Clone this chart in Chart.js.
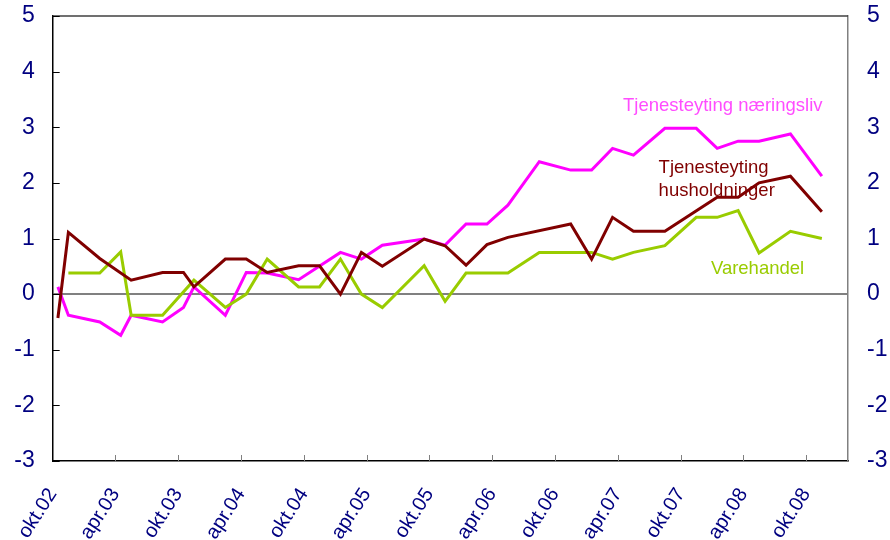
<!DOCTYPE html>
<html>
<head>
<meta charset="utf-8">
<script src="https://cdn.jsdelivr.net/npm/chart.js@4.4.1/dist/chart.umd.min.js"></script>
<style>
  body { margin: 0; background: #fff; }
  #wrap { width: 890px; height: 540px; }
</style>
</head>
<body>
<div id="wrap"><canvas id="mycanvas"></canvas></div>
<script>
// months counted from okt.02 (0) ; a value sits in the middle of its month
var months = [0, 1, 4, 6, 7, 10, 12, 13, 16, 18, 20, 23, 25, 27, 29, 31, 35, 37, 39, 41, 43, 46, 49, 51, 53, 55, 58, 61, 63, 65, 67, 70, 73];

var husholdninger = [-0.43, 1.11, 0.64, null, 0.25, 0.39, 0.39, 0.13, 0.63, 0.63, 0.39, 0.51, 0.51, 0.0, 0.75, 0.5, 0.99, 0.87, 0.52, 0.89, 1.02, null, 1.26, 0.63, 1.38, 1.13, 1.13, null, 1.74, 1.74, 2.0, 2.12, 1.48];
var varehandel = [null, 0.38, 0.38, 0.76, -0.38, -0.38, null, 0.25, -0.24, 0.0, 0.63, 0.13, 0.13, 0.63, 0.0, -0.24, 0.51, -0.13, 0.38, 0.38, 0.38, 0.75, 0.75, 0.75, 0.63, 0.75, 0.87, 1.38, 1.38, 1.5, 0.74, 1.13, 1.0];
var naeringsliv = [0.13, -0.38, -0.5, -0.74, -0.38, -0.5, -0.24, 0.13, -0.38, 0.39, 0.38, 0.26, null, 0.75, 0.63, 0.88, 0.99, 0.88, 1.26, 1.26, 1.6, 2.38, 2.23, 2.23, 2.62, 2.5, 2.98, 2.98, 2.62, 2.75, 2.75, 2.88, 2.12];

var tickMonths = [0, 6, 12, 18, 24, 30, 36, 42, 48, 54, 60, 66, 72];
var tickLabels = ['okt.02', 'apr.03', 'okt.03', 'apr.04', 'okt.04', 'apr.05', 'okt.05', 'apr.06', 'okt.06', 'apr.07', 'okt.07', 'apr.08', 'okt.08'];
var yTicks = [-3, -2, -1, 0, 1, 2, 3, 4, 5];

var notes = [
  { text: 'Tjenesteyting næringsliv', x: 54.5, y: 3.29, color: '#ff4dff' },
  { text: 'Tjenesteyting', x: 57.9, y: 2.18, color: '#800000' },
  { text: 'husholdninger', x: 57.9, y: 1.77, color: '#800000' },
  { text: 'Varehandel', x: 62.9, y: 0.36, color: '#99cc00' }
];

var FONT = '"Liberation Sans", Arial, sans-serif';

function points(values) {
  var out = [];
  for (var i in months) {
    out.push({ x: months[i] + 0.5, y: values[i] });
  }
  return out;
}

function fitY(width) {
  return function(scale) {
    scale.width = width;
    scale.paddingTop = 0;
    scale.paddingBottom = 0;
  };
}

var extras = {
  id: 'extras',
  afterDraw: function(chart) {
    var ctx = chart.ctx, a = chart.chartArea;
    var xs = chart.scales.x, ys = chart.scales.y;
    ctx.save();
    // top frame
    ctx.strokeStyle = '#404040';
    ctx.lineWidth = 1.5;
    ctx.beginPath();
    ctx.moveTo(a.left, a.top);
    ctx.lineTo(a.right, a.top);
    ctx.stroke();
    // inward ticks, left axis
    ctx.strokeStyle = '#000';
    ctx.lineWidth = 1;
    yTicks.forEach(function(v) {
      var py = Math.round(ys.getPixelForValue(v)) + 0.5;
      ctx.beginPath();
      ctx.moveTo(a.left, py);
      ctx.lineTo(a.left + 7, py);
      ctx.stroke();
    });
    // inward ticks, bottom axis
    ctx.strokeStyle = '#808080';
    tickMonths.forEach(function(m) {
      if (m === 0) return;
      var px = Math.round(xs.getPixelForValue(m)) + 0.5;
      ctx.beginPath();
      ctx.moveTo(px, a.bottom);
      ctx.lineTo(px, a.bottom - 6);
      ctx.stroke();
    });
    // series names
    ctx.font = '18.5px ' + FONT;
    ctx.textAlign = 'left';
    ctx.textBaseline = 'alphabetic';
    notes.forEach(function(n) {
      ctx.fillStyle = n.color;
      ctx.fillText(n.text, xs.getPixelForValue(n.x), ys.getPixelForValue(n.y));
    });
    ctx.restore();
  }
};

var chartdata = {
  datasets: [
    { label: 'Tjenesteyting husholdninger', data: points(husholdninger), borderColor: '#800000' },
    { label: 'Varehandel', data: points(varehandel), borderColor: '#99cc00' },
    { label: 'Tjenesteyting næringsliv', data: points(naeringsliv), borderColor: '#ff00ff' }
  ]
};
chartdata.datasets.forEach(function(d) {
  d.borderWidth = 3;
  d.pointRadius = 0;
  d.tension = 0;
  d.spanGaps = true;
  d.fill = false;
});

var ctx = document.getElementById('mycanvas');

var dashboard = new Chart(ctx, {
  type: 'line',
  data: chartdata,
  plugins: [extras],
  options: {
    responsive: true,
    maintainAspectRatio: false,
    animation: false,
    layout: { padding: { top: 16, left: 0, right: 0, bottom: 0 } },
    plugins: { legend: { display: false }, tooltip: { enabled: false } },
    scales: {
      x: {
        type: 'linear',
        min: 0,
        max: 76,
        afterBuildTicks: function(scale) {
          scale.ticks = tickMonths.map(function(v) { return { value: v }; });
        },
        afterFit: function(scale) { scale.height = 79; },
        ticks: {
          autoSkip: false,
          minRotation: 57,
          maxRotation: 57,
          padding: 23,
          color: '#000080',
          font: { family: FONT, size: 20 },
          callback: function(v) { return tickLabels[tickMonths.indexOf(v)]; }
        },
        grid: { display: true, drawOnChartArea: false, drawTicks: false },
        border: { display: true, color: '#000', width: 1.5 }
      },
      y: {
        position: 'left',
        min: -3,
        max: 5,
        afterBuildTicks: function(scale) {
          scale.ticks = yTicks.map(function(v) { return { value: v }; });
        },
        afterFit: fitY(51),
        ticks: {
          padding: 18,
          color: '#000080',
          font: { family: FONT, size: 23 }
        },
        grid: {
          drawTicks: false,
          lineWidth: 2,
          color: function(c) { return c.tick && c.tick.value === 0 ? '#808080' : 'rgba(0,0,0,0)'; }
        },
        border: { display: true, color: '#000', width: 1.5 }
      },
      y2: {
        position: 'right',
        min: -3,
        max: 5,
        afterBuildTicks: function(scale) {
          scale.ticks = yTicks.map(function(v) { return { value: v }; });
        },
        afterFit: fitY(42),
        ticks: {
          padding: 19,
          color: '#000080',
          font: { family: FONT, size: 23 }
        },
        grid: { display: true, drawOnChartArea: false, drawTicks: false },
        border: { display: true, color: '#808080', width: 1.5 }
      }
    }
  }
});
</script>
</body>
</html>
